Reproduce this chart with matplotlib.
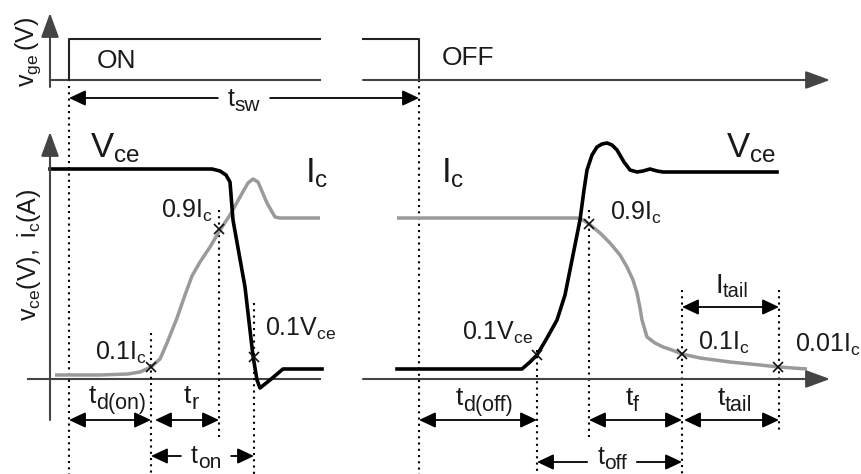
import matplotlib
matplotlib.use('Agg')
import matplotlib.pyplot as plt

plt.rcParams['font.family'] = ['Liberation Sans', 'DejaVu Sans']
plt.rcParams['mathtext.fontset'] = 'custom'
plt.rcParams['mathtext.rm'] = 'Liberation Sans'
plt.rcParams['mathtext.it'] = 'Liberation Sans'
plt.rcParams['mathtext.default'] = 'regular'

# waveforms (x = time, y = level, screen units)
vce_on_x = [50, 212, 220, 226, 230, 233, 245, 253, 257, 260, 270, 283, 322]
vce_on_y = [169, 169, 171, 175, 182, 220, 287, 356, 380, 388, 380, 369, 369]

ic_on_x = [55, 100, 128, 140, 151, 160, 167, 177, 185, 192, 200, 210, 220, 230,
           240, 248, 253, 258, 267, 275, 280, 320]
ic_on_y = [375, 375, 374, 372, 367, 359, 343, 318, 295, 276, 262, 247, 230, 215,
           197, 183, 179, 182, 203, 217, 218, 218]

vce_off_x = [397, 522, 530, 537, 547, 557, 565, 570, 576, 580, 584, 587, 592, 597,
             602, 607, 612, 617, 624, 630, 637, 643, 650, 657, 663, 700, 777]
vce_off_y = [369, 369, 362, 355, 338, 320, 295, 270, 240, 220, 190, 170, 155, 147,
             144, 143, 145, 150, 162, 170, 172, 171, 169, 171, 172, 172, 172]

ic_off_x = [397, 577, 583, 589, 600, 610, 620, 627, 633, 637, 640, 642, 647, 655,
            663, 672, 682, 700, 730, 760, 779, 807]
ic_off_y = [218, 218, 220, 224, 233, 243, 255, 267, 280, 293, 308, 320, 337, 343,
            347, 350, 354, 358, 362, 365, 367, 369]

# gate signal
vge_x = [69, 69, 320]
vge_y = [80, 39, 39]
vge2_x = [363, 419, 419]
vge2_y = [39, 39, 80]

# crossing marks
mark_x = [151, 219, 254, 537, 589, 682, 778]
mark_y = [367, 229, 357, 355, 224, 354, 367]

# dotted guide lines: x, top, bottom
guide_x = [69, 151, 219, 254, 419, 537, 589, 682, 779]
guide_top = [86, 333, 210, 303, 80, 350, 210, 290, 290]
guide_bot = [474, 474, 440, 474, 474, 474, 438, 474, 432]

# dimension arrows: y, x from, x to, label, subscript, label x, baseline
dims = [
    (420, 69, 151, 't', 'd(on)', 117, 403),
    (420, 155, 219, 't', 'r', 191, 403),
    (420, 419, 537, 't', 'd(off)', 484, 405),
    (420, 589, 682, 't', 'f', 632, 405),
    (420, 684, 779, 't', 'tail', 735, 405),
    (307, 682, 779, 'I', 'tail', 732, 293),
]
# arrows split around their label
gap_dims = [
    (98, 69, 419, 't', 'sw', 244, 106),
    (456, 151, 254, 't', 'on', 206, 463),
    (462, 537, 682, 't', 'off', 612, 464),
]

fig = plt.figure(figsize=(8.62, 4.74), dpi=100)
ax = fig.add_axes([0, 0, 1, 1])
ax.set_xlim(0, 862)
ax.set_ylim(474, 0)
ax.axis('off')
rend = fig.canvas.get_renderer()

axc = '#444444'
txt = '#1a1a1a'

def arrow(x0, y0, x1, y1, style, hl, hw, lw=1.3, c='black'):
    ax.annotate('', xy=(x1, y1), xytext=(x0, y0),
                arrowprops=dict(arrowstyle='%s,head_length=%s,head_width=%s' % (style, hl, hw),
                                lw=lw, color=c, shrinkA=0, shrinkB=0, mutation_scale=10))

def sublabel(x, y, main, sub, size=19, subsize=15.5, drop=6):
    # main letter plus a larger-than-mathtext subscript, centred on x
    t1 = ax.text(x, y, main, fontsize=size, va='baseline', ha='left', color=txt)
    t2 = ax.text(x, y + drop, sub, fontsize=subsize, va='baseline', ha='left', color=txt)
    w1 = t1.get_window_extent(rend).width
    w2 = t2.get_window_extent(rend).width
    x0 = x - (w1 + w2) / 2
    t1.set_x(x0)
    t2.set_x(x0 + w1)
    return x0, x0 + w1 + w2

# axes of the two panels
arrow(50, 87, 50, 13, '-|>', 1.5, 0.55, lw=1.5, c=axc)
ax.plot([50, 320], [80, 80], color=axc, lw=1.5)
arrow(363, 80, 830, 80, '-|>', 1.5, 0.55, lw=1.5, c=axc)
arrow(50, 420, 50, 132, '-|>', 1.5, 0.55, lw=1.5, c=axc)
ax.plot([28, 320], [379, 379], color=axc, lw=1.5)
arrow(363, 379, 830, 379, '-|>', 1.5, 0.55, lw=1.5, c=axc)

ax.plot(vge_x, vge_y, color='#222222', lw=1.5)
ax.plot(vge2_x, vge2_y, color='#222222', lw=1.5)

for gx, gt, gb in zip(guide_x, guide_top, guide_bot):
    ax.plot([gx, gx], [gt, gb], color='black', lw=1.5, ls=(0, (1, 2)))

ax.plot(ic_on_x, ic_on_y, color='#9a9a9a', lw=2.5, solid_capstyle='butt')
ax.plot(ic_off_x, ic_off_y, color='#9a9a9a', lw=2.5, solid_capstyle='butt')
ax.plot(vce_on_x, vce_on_y, color='black', lw=2.6)
ax.plot(vce_off_x, vce_off_y, color='black', lw=2.6)

ax.plot(mark_x, mark_y, ls='none', marker='x', ms=7, mew=1.2, color='#111111')

for y, x0, x1, m, s, lx, ly in dims:
    arrow(x0, y, x1, y, '<|-|>', 1.0, 0.47)
    if m == 'I':
        sublabel(lx, ly, m, s, size=20, subsize=14.5, drop=4)
    else:
        sublabel(lx, ly, m, s)
for y, x0, x1, m, s, lx, ly in gap_dims:
    a, b = sublabel(lx, ly, m, s, size=18, subsize=15, drop=5)
    arrow(a - 10, y, x0, y, '-|>', 1.0, 0.47)
    arrow(b + 10, y, x1, y, '-|>', 1.0, 0.47)

# signal names
ax.text(90, 148, r'$V_{ce}$', ha='left', va='center', fontsize=25, color=txt)
ax.text(305, 173, r'$I_c$', ha='left', va='center', fontsize=25, color=txt)
ax.text(441, 173, r'$I_c$', ha='left', va='center', fontsize=25, color=txt)
ax.text(726, 148, r'$V_{ce}$', ha='left', va='center', fontsize=25, color=txt)

# level labels
ax.text(213, 211, r'$0.9I_c$', ha='right', va='center', fontsize=18, color=txt)
ax.text(265, 329, r'$0.1V_{ce}$', ha='left', va='center', fontsize=18, color=txt)
ax.text(147, 353, r'$0.1I_c$', ha='right', va='center', fontsize=18, color=txt)
ax.text(610, 213, r'$0.9I_c$', ha='left', va='center', fontsize=18, color=txt)
ax.text(533, 333, r'$0.1V_{ce}$', ha='right', va='center', fontsize=18, color=txt)
ax.text(698, 343, r'$0.1I_c$', ha='left', va='center', fontsize=18, color=txt)
ax.text(795, 345, r'$0.01I_c$', ha='left', va='center', fontsize=18, color=txt)

ax.text(97, 61, 'ON', ha='left', va='center', fontsize=19, color=txt)
ax.text(442, 58, 'OFF', ha='left', va='center', fontsize=19, color=txt)

ax.text(28, 52, r'$v_{ge}\,(V)$', rotation=90, ha='center', va='center', fontsize=18, color=txt)
ax.text(29, 255, r'$v_{ce}(V),\ i_c(A)$', rotation=90, ha='center', va='center', fontsize=18, color=txt)

fig.savefig('out.png', dpi=100)
